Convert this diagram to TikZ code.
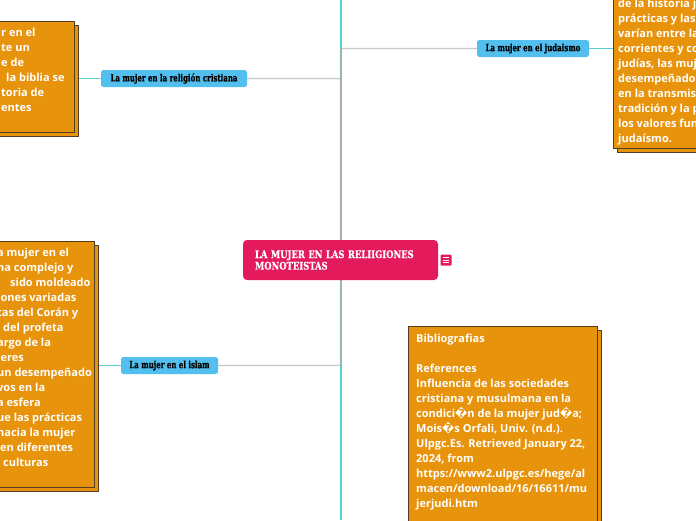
\documentclass[tikz,border=0pt]{standalone}
\usepackage{fontspec}
\setmainfont{Open Sans}
\newfontfamily\slab[FakeStretch=0.7,FakeBold=0.6]{DejaVu Serif Bold}
\newfontfamily\slabwide[FakeStretch=0.8,FakeBold=0.6]{DejaVu Serif Bold}
\newfontfamily\repl{DejaVu Sans}
\usetikzlibrary{backgrounds}
\definecolor{boxfill}{HTML}{E8930C}
\definecolor{boxline}{HTML}{4F3E22}
\definecolor{mainpink}{HTML}{E31A5C}
\definecolor{topicblue}{HTML}{52BFEE}
\definecolor{linegray}{HTML}{B4B4B4}
\definecolor{lineteal}{HTML}{5CCCCC}
\newcommand{\rc}{{\repl\symbol{"FFFD}}}
\tikzset{
  notebox/.style={draw=boxline, fill=boxfill, line width=1.2pt, rectangle, inner sep=0pt, anchor=north west},
  notetext/.style={text=white, font=\bfseries\fontsize{11}{15}\selectfont, align=left, inner sep=0pt, anchor=base west},
  topic/.style={fill=topicblue, rounded corners=2.5pt, font=\slab\fontsize{10}{11}\selectfont, text=black, inner sep=0pt, minimum height=17pt},
  mainnode/.style={fill=mainpink, rounded corners=4pt, font=\slabwide\fontsize{10.5}{11.5}\selectfont, text=white, inner xsep=12pt, inner ysep=0pt, text width=171pt, align=left, minimum height=40pt},
  grayline/.style={draw=linegray, line width=1.2pt, rounded corners=2pt},
  tealline/.style={draw=lineteal, line width=1.2pt},
}
\begin{document}
\begin{tikzpicture}[x=1pt,y=-1pt]
\useasboundingbox (0,0) rectangle (696,520);
\clip (0,0) rectangle (696,520);

% main and topics
\node[mainnode] (main) at (340.5,260) {LA MUJER EN LAS RELIIGIONES\\MONOTEISTAS};
\node[fill=mainpink, rounded corners=1pt, minimum size=11pt, inner sep=0pt] (icon) at (446,260) {};
\draw[white, line width=0.8pt] (443,257.3) -- (449,257.3) (443,260) -- (449,260) (443,262.7) -- (449,262.7);

\node[topic, minimum width=146pt] (cri) at (174,78.5) {La mujer en la religión cristiana};
\node[topic, minimum width=112pt] (jud) at (533,48.5) {La mujer en el judaismo};
\node[topic, minimum width=97pt] (isl) at (169.5,365.5) {La mujer en el islam};

% note boxes (back copies, then fronts); text anchored at the last line's baseline
\node[notebox, minimum width=84pt, minimum height=111pt] at (-6.5,24.5) {};
\node[notebox, minimum width=84pt, minimum height=111pt] (b1) at (-10,21) {};
\node[notetext] (t1) at (1,111) {r en el\\te un\\e de\\\hspace{5pt}la biblia se\\toria de\\entes};

\node[notebox, minimum width=110pt, minimum height=168pt] at (616.5,-16.5) {};
\node[notebox, minimum width=110pt, minimum height=168pt] (b2) at (613,-20) {};
\node[notetext] (t2) at (618,142) {de la historia j\\prácticas y las\\varían entre la\\corrientes y co\\judías, las muj\\desempeñado\\en la transmis\\tradición y la p\\los valores fun\\judaísmo.};

\node[notebox, minimum width=104pt, minimum height=246pt] at (-6.5,244.5) {};
\node[notebox, minimum width=104pt, minimum height=246pt] (b3) at (-10,241) {};
\node[notetext] (t3) at (-3,466) {a mujer en el\\na complejo y\\\hspace{13pt}sido moldeado\\iones variadas\\tas del Corán y\\\hspace{6pt}del profeta\\argo de la\\jeres\\un desempeñado\\vos en la\\a esfera\\ue las prácticas\\nacia la mujer\\\hspace{3pt}en diferentes\\\hspace{6pt}culturas};

\node[notebox, minimum width=189pt, minimum height=230pt] at (411.5,329.5) {};
\node[notebox, minimum width=189pt, minimum height=230pt] (b4) at (408,326) {};
\node[notetext] (t4) at (416,507) {Bibliografias\\\mbox{}\\References\\Influencia de las sociedades\\cristiana y musulmana en la\\condici\rc n de la mujer jud\rc a;\\Mois\rc s Orfali, Univ. (n.d.).\\Ulpgc.Es. Retrieved January 22,\\2024, from\\https://www2.ulpgc.es/hege/al\\macen/download/16/16611/mu\\jerjudi.htm};

% connectors
\coordinate (ttop) at (341,0);
\coordinate (tbot) at (341,520);
\begin{scope}[on background layer]
  \draw[tealline] (ttop) -- (tbot);
  \draw[grayline, opacity=0.75] (main.center) |- (jud.west);
  \draw[grayline, opacity=0.75] (main.center) |- (cri.east);
  \draw[grayline, opacity=0.75] (main.center) |- (isl.east);
  \draw[tealline] (cri.west) -- (cri.west -| b1.east);
  \draw[tealline] (jud.east) -- (jud.east -| b2.west);
  \draw[tealline] (isl.west) -- (isl.west -| b3.east);
\end{scope}
\end{tikzpicture}
\end{document}
